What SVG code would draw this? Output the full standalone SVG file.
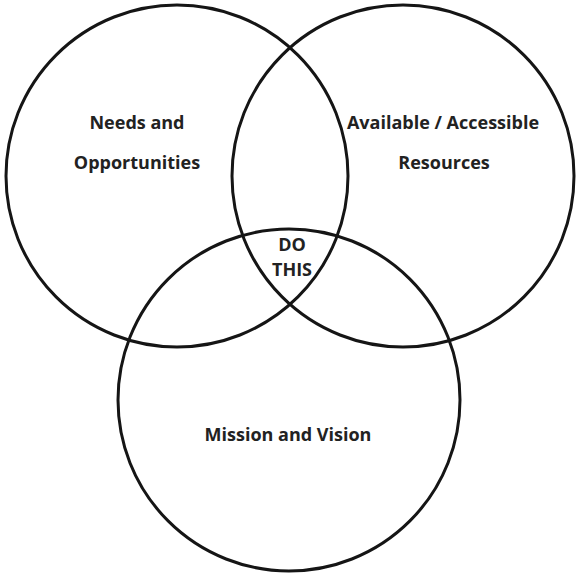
<svg xmlns="http://www.w3.org/2000/svg" width="576" height="574" viewBox="0 0 576 574">
  <style>
    .ring { fill: none; stroke: #151515; stroke-width: 3; }
    .lbl { font-family: "Open Sans", Lato, "Liberation Sans", sans-serif; font-weight: bold; font-size: 18px; fill: #222; text-anchor: middle; }
  </style>
  <rect width="576" height="574" fill="#ffffff"/>
  <g id="needs">
    <circle class="ring" cx="177" cy="176" r="171"/>
    <text class="lbl" x="137" y="129">Needs and</text>
    <text class="lbl" x="137" y="169">Opportunities</text>
  </g>
  <g id="resources">
    <circle class="ring" cx="403" cy="176" r="171"/>
    <text class="lbl" x="443" y="129">Available / Accessible</text>
    <text class="lbl" x="444" y="169">Resources</text>
  </g>
  <g id="mission">
    <circle class="ring" cx="289" cy="400" r="171"/>
    <text class="lbl" x="288" y="441">Mission and Vision</text>
  </g>
  <g id="do-this">
    <text class="lbl" x="292" y="251">DO</text>
    <text class="lbl" x="292" y="276">THIS</text>
  </g>
</svg>
